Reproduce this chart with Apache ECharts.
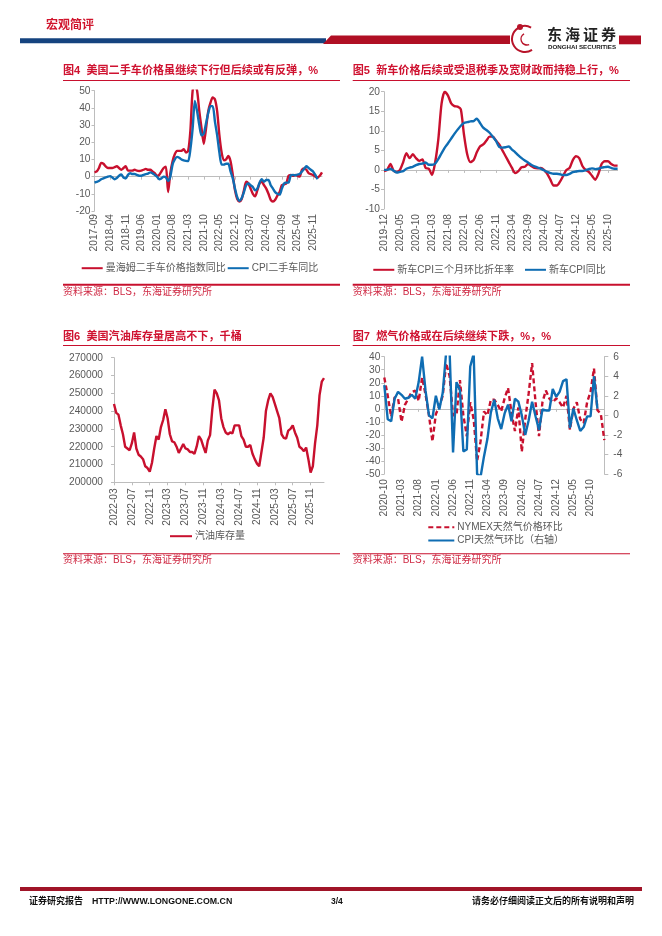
<!DOCTYPE html>
<html><head><meta charset="utf-8">
<style>html,body{margin:0;padding:0;background:#fff}#c{width:662px;height:936px}</style>
<script src="https://cdn.jsdelivr.net/npm/echarts@6/dist/echarts.min.js"></script>
</head><body><div id="c"></div>
<script>
// ---------- data ----------
const manheimYoY = [2.5,3,5,8,7.5,6,5,5,5,5.5,6,5,4,5,6,3.5,3.5,3.5,4,3.5,3.3,3.5,4,4.5,4,4,3,2,0.5,1,3,5,5.8,-9,2,9,13,15,15,15,16,14,15,27,50,53,50,38,28,19,28,38,43,46,45,38,24,14,9.5,10,12,9,1,-8,-13,-14.5,-13,-8,-3,-4,-7,-10,-11.5,-8,-4,-3,-5,-7,-10,-13.5,-14.5,-13.5,-11,-9,-5,-4.5,-4,0.5,1,0.5,1,0.5,0,4,4.8,4,2,1.5,1,0,-0.5,0.5,2.5];
const cpiUsedYoY = [-3.5,-3,-2.5,-1.5,-1,-0.5,0,0.3,-0.5,-1.5,-0.8,0.5,1.2,-0.5,-1,1,2,1.5,1.5,1,0.5,0.5,1,1.5,1.8,2.5,2,1,0,-1.5,-1,0,-0.5,-2.5,0,7,10,11.5,11,10,9.5,9.2,9,16,28,44,38,30,24,25,31,37,41,41,32,24,14,7,7,7.5,7.5,3,-1,-7,-12,-14,-12.5,-9,-5,-4,-5,-6,-8,-7,-3.5,-1.5,-3,-2,-2,-5,-7,-9,-10,-10.5,-7,-4,-3.5,-3.5,0.8,1,0.8,1.2,1.5,3,4.5,6,5,4,3,1,-1.5];
const newCar3m = [-0.3,0,1.5,-0.2,-0.5,0,2,4.3,3,4,3,2.3,2.7,0.5,0.3,-1.3,2,8,17,20,19,17,16.3,16.2,15.5,9,4,2,2.5,4.5,6,6.5,7.5,8.5,8.5,7.5,6.5,5,3.5,2,0.5,-0.8,-0.3,0.7,0.8,1.5,1,0.5,0.4,0.5,0,-1,-2.5,-4,-4,-3,-1.5,0,0.5,2.5,3.5,3,1,0,-0.5,-1.5,-2.5,-1,1.5,2.2,2.2,1.5,1.1,1.1];
const newCarYoY = [0,0,0.3,-0.2,-0.7,-0.5,-0.3,0.3,0.6,0.8,1.2,1.5,1.6,1.9,1.3,1.3,1.6,2.8,4.3,5.7,6.8,8,9.2,10.3,11.3,12,12.2,12.4,12.5,13.1,12,10.8,10.2,9.5,8.5,7.4,5.9,5.7,5.8,6,5.2,4.5,3.7,3,2.4,1.9,1.3,0.9,0.6,0.3,-0.1,-0.5,-0.8,-1,-1,-1.1,-1.3,-1.3,-1,-0.6,-0.4,-0.3,-0.3,-0.1,0.2,0.4,0.2,0.3,0.6,0.7,0.8,0.5,0.3,0.3];
const gasolineStocks = [244000,239000,238000,232000,227000,220000,219000,218000,222000,228000,219000,215500,214500,213000,209000,208000,206000,211000,219000,226000,224000,231000,235000,241000,236000,227000,223000,222500,220000,216500,219000,221500,219000,218500,217000,217000,216000,220000,226000,224000,220000,216500,223500,226500,241000,252000,250000,246000,236000,231000,228000,227000,228000,227500,232000,232000,232000,226000,224000,220000,220000,221000,216000,213000,210500,209000,217000,225000,240000,246000,250000,248000,244000,240000,236000,227000,225000,224500,229000,230000,232000,228000,225000,220000,219000,217500,219500,213000,205500,209000,222000,232000,249000,256500,258500];
const nymexMoM = [24,10,-6,9,8,-10,3,8,13,14,6,24,11,-5,-25,-4,2,10,35,25,-5,-5,22,-5,-21,5,-8,-40,-25,-2,-5,7,7,3,-2,8,16,-3,-17,1,-33,-8,12,35,5,-21,5,14,8,5,8,5,1,10,-16,0,5,-8,-11,5,13,31,-1,-4,-24];
const cpiGasMoM = [3.1,-0.4,-0.6,1.7,2.4,2.1,1.7,1.8,2.1,1.7,3.4,6,2.5,0,-0.3,2,0.6,2.3,6.5,6.5,-3.8,3.4,2.6,-3.7,-3.5,5,6.3,-6,-6.3,-4.2,-2.4,0.3,1.6,-0.3,-1.4,0.2,1.1,-0.6,1.7,1.4,0,-2,-0.5,1.4,-0.1,-1.5,0.6,0.5,0.5,2.7,1.9,2.4,3.5,3.7,-1.3,0.7,-0.5,-1.6,-1.2,-0.1,-0.1,4,0.7];
const fig4Names = ['曼海姆二手车价格指数同比','CPI二手车同比'];
const fig5Names = ['新车CPI三个月环比折年率','新车CPI同比'];
const fig6Names = ['汽油库存量'];
const fig7Names = ['NYMEX天然气价格环比','CPI天然气环比（右轴）'];
const figTitles = ['图4  美国二手车价格虽继续下行但后续或有反弹，%','图5  新车价格后续或受退税季及宽财政而持稳上行，%','图6  美国汽油库存量居高不下，千桶','图7  燃气价格或在后续继续下跌，%，%'];
const sourceText = '资料来源：BLS，东海证券研究所';

function months(start, n, perMonth) {
  let [y, m] = start.split('-').map(Number), out = [];
  for (let i = 0; i < n; i++) {
    const k = Math.floor(i / (perMonth || 1)) + m - 1;
    out.push((y + Math.floor(k / 12)) + '-' + String(k % 12 + 1).padStart(2, '0'));
  }
  return out;
}
const cat4 = months('2017-09', manheimYoY.length);
const cat5 = months('2019-12', newCar3m.length);
const cat6 = months('2022-03', gasolineStocks.length, 2);
const cat7 = months('2020-10', nymexMoM.length);

// ---------- styles ----------
const RED = '#c8102e', BLUE = '#0f6db3', GREY = '#bdbdbd', TXT = '#595959';
const FONT = '"Liberation Sans","Noto Sans CJK SC",sans-serif';
const LABEL = 10.2;
const grids = [
  {left: 94.5, width: 227.5, top: 90.7, height: 120.3},
  {left: 384,  width: 233.6, top: 91.7, height: 117.3},
  {left: 114,  width: 210,   top: 357.7, height: 124.6},
  {left: 384.3, width: 220,  top: 356.7, height: 117.3}
];
const xAxis = [], yAxis = [], series = [];
function addX(g, data, interval, withZeroLine, margin) {
  const lab = {show: true, rotate: 90, interval, margin, color: TXT, fontSize: LABEL, fontFamily: FONT};
  const lineStyle = {color: GREY, width: 1};
  const tick = {show: true, interval, length: 3, lineStyle: {color: GREY}};
  if (withZeroLine) {
    xAxis.push({type: 'category', gridIndex: g, data, boundaryGap: false, position: 'bottom', axisLine: {show: false, onZero: false}, axisTick: {show: false}, axisLabel: lab, splitLine: {show: false}});
    xAxis.push({type: 'category', gridIndex: g, data, boundaryGap: false, position: 'bottom', axisLine: {show: true, onZero: true, lineStyle}, axisTick: tick, axisLabel: {show: false}, splitLine: {show: false}});
  } else {
    xAxis.push({type: 'category', gridIndex: g, data, boundaryGap: false, position: 'bottom', axisLine: {show: true, onZero: false, lineStyle}, axisTick: tick, axisLabel: lab, splitLine: {show: false}});
  }
  return xAxis.length - (withZeroLine ? 2 : 1);
}
function addY(g, min, max, interval, pos, margin, tickLen) {
  yAxis.push({type: 'value', gridIndex: g, min, max, interval, position: pos || 'left', scale: true,
    axisLine: {show: true, onZero: false, lineStyle: {color: GREY}}, axisTick: {show: true, length: tickLen || 3, lineStyle: {color: GREY}},
    axisLabel: {color: TXT, fontSize: LABEL, fontFamily: FONT, margin: margin || 4, formatter: v => String(v)}, splitLine: {show: false}});
  return yAxis.length - 1;
}
function addS(name, data, xi, yi, color, smooth, type) {
  series.push({name, type: 'line', data, xAxisIndex: xi, yAxisIndex: yi, symbol: 'none', smooth, clip: true,
    connectNulls: false, lineStyle: {color, width: 2.4, type: type || 'solid'}, itemStyle: {color}, z: 3});
}
let x, y;
x = addX(0, cat4, 6, true, 3); y = addY(0, -20, 50, 10);
addS(fig4Names[0], manheimYoY, x, y, RED, 0.25); addS(fig4Names[1], cpiUsedYoY, x, y, BLUE, 0.25);
x = addX(1, cat5, 4, true, 5); y = addY(1, -10, 20, 5);
addS(fig5Names[0], newCar3m, x, y, RED, 0.25); addS(fig5Names[1], newCarYoY, x, y, BLUE, 0.25);
x = addX(2, cat6, 7, false, 6); y = addY(2, 200000, 270000, 10000, 'left', 11);
addS(fig6Names[0], gasolineStocks, x, y, RED, 0);
x = addX(3, cat7, 4, true, 5); y = addY(3, -50, 40, 10); const yr = addY(3, -6, 6, 2, 'right', 9, 4);
addS(fig7Names[0], nymexMoM, x, y, RED, 0, [5, 3]); addS(fig7Names[1], cpiGasMoM, x, yr, BLUE, 0);

function leg(names, left, cy, w, gap) {
  return {data: names, left, top: cy - 4.5, orient: 'horizontal', itemWidth: w, itemHeight: 3, itemGap: gap, padding: 0,
    selectedMode: false, itemStyle: {color: 'transparent', opacity: 0, borderWidth: 0},
    textStyle: {color: TXT, fontSize: 10, fontFamily: FONT, padding: [0, 0, 0, -2]}};
}
const legend = [
  leg(fig4Names, 80.7, 267.7, 21, 1),
  leg(fig5Names, 372.3, 269.3, 21, 10),
  leg(fig6Names, 169, 535.7, 22, 5),
  leg([fig7Names[0]], 427.3, 526.7, 26, 5),
  leg([fig7Names[1]], 427.3, 540, 26, 5)
];
const title = [[63, 71], [352.7, 71], [63, 337], [352.7, 337]].map((p, i) => ({
  text: figTitles[i], left: p[0], top: p[1] - 6.5, padding: 0,
  textStyle: {color: '#cf1230', fontSize: 11.1, fontWeight: 'bold', fontFamily: FONT, lineHeight: 13}}));

const rect = (x, y, w, h, fill) => ({type: 'rect', silent: true, shape: {x, y, width: w, height: h}, style: {fill}});
const txt = (x, y, text, fill, font, align) => ({type: 'text', silent: true, style: {x, y, text, fill, font, textAlign: align || 'left', textVerticalAlign: 'middle'}});
const LOGO = '#b8142a';
const graphic = [
  txt(46, 25.7, '宏观简评', '#d0142c', 'bold 12px ' + FONT),
  rect(20, 38.3, 306, 5, '#15437f'),
  {type: 'polygon', silent: true, shape: {points: [[323, 44], [331, 35.5], [510, 35.5], [510, 44]]}, style: {fill: '#b00f24'}},
  rect(619, 35.5, 22, 8.8, '#b00f24'),
  // logo: open dragon ring with a small inner curl
  {type: 'arc', silent: true, shape: {cx: 525, cy: 39, r: 13, startAngle: 1.0, endAngle: 5.2}, style: {fill: 'none', stroke: LOGO, lineWidth: 2}},
  {type: 'arc', silent: true, shape: {cx: 527, cy: 39, r: 6, startAngle: 1.2, endAngle: 4.2}, style: {fill: 'none', stroke: LOGO, lineWidth: 1.4}},
  {type: 'circle', silent: true, shape: {cx: 520, cy: 27, r: 3}, style: {fill: LOGO}},
  txt(547, 34, '东', '#222', 'bold 15px "Noto Sans CJK SC"'),
  txt(565, 34, '海', '#222', 'bold 15px "Noto Sans CJK SC"'),
  txt(583, 34, '证', '#222', 'bold 15px "Noto Sans CJK SC"'),
  txt(601, 34, '券', '#222', 'bold 15px "Noto Sans CJK SC"'),
  txt(548, 47, 'DONGHAI SECURITIES', '#222', 'bold 6.2px ' + FONT),
  rect(63, 80, 277, 1, RED), rect(352.7, 80, 277.3, 1, RED),
  rect(63, 283.7, 277, 2, RED), rect(352.7, 283.7, 277.3, 2, RED),
  rect(63, 345, 277, 1, RED), rect(352.7, 345, 277.3, 1, RED),
  rect(63, 553.3, 277, 1, RED), rect(352.7, 553.3, 277.3, 1, RED),
  txt(63, 292.5, sourceText, '#cf2a44', '10px ' + FONT), txt(352.7, 292.5, sourceText, '#cf2a44', '10px ' + FONT),
  txt(63, 560.7, sourceText, '#cf2a44', '10px ' + FONT), txt(352.7, 560.7, sourceText, '#cf2a44', '10px ' + FONT),
  rect(20, 887, 622, 4, '#a01428'),
  txt(29, 902, '证券研究报告', '#111', 'bold 9px ' + FONT),
  txt(92, 902, 'HTTP://WWW.LONGONE.COM.CN', '#111', 'bold 8.8px ' + FONT),
  txt(331, 902, '3/4', '#111', 'bold 8.5px ' + FONT),
  txt(634, 902, '请务必仔细阅读正文后的所有说明和声明', '#111', 'bold 9px ' + FONT, 'right')
];
const chart = echarts.init(document.getElementById('c'), null, {renderer: 'canvas', width: 662, height: 936});
chart.setOption({animation: false, backgroundColor: '#fff', title, legend, grid: grids, xAxis, yAxis, series, graphic});
</script></body></html>
